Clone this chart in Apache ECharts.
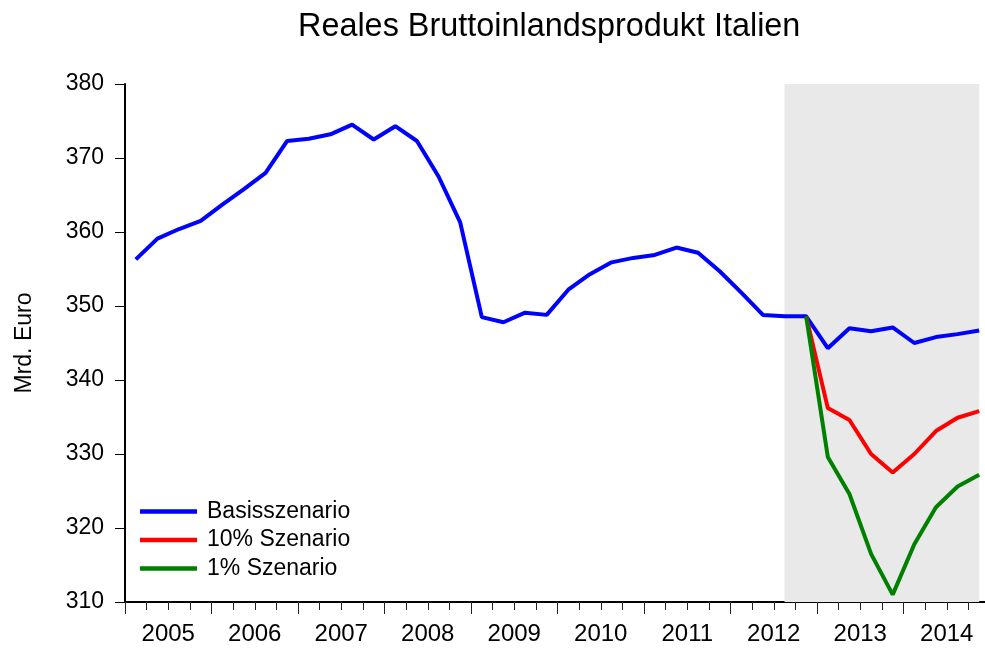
<!DOCTYPE html>
<html>
<head>
<meta charset="utf-8">
<script src="https://cdn.jsdelivr.net/npm/echarts@6/dist/echarts.min.js"></script>
<style>html,body{margin:0;padding:0;background:#fff}#c{width:985px;height:648px}</style>
</head>
<body>
<div id="c"></div>
<script>
// Quarterly data 2005Q1 .. 2014Q4
const startYear = 2005;
const yearLabels = ['2005','2006','2007','2008','2009','2010','2011','2012','2013','2014'];
const basis = [356.3, 359.1, 360.4, 361.5, 363.7, 365.8, 368.0, 372.3, 372.6, 373.2,
               374.5, 372.5, 374.3, 372.3, 367.5, 361.3, 348.5, 347.8, 349.1, 348.8,
               352.2, 354.3, 355.9, 356.5, 356.9, 357.9, 357.2, 354.7, 351.8, 348.8,
               348.6, 348.6, 344.3, 347.0, 346.6, 347.1, 345.0, 345.8, 346.2, 346.7];
const szen10 = [null,null,null,null,null,null,null,null,null,null,
                null,null,null,null,null,null,null,null,null,null,
                null,null,null,null,null,null,null,null,null,null,
                null, 348.6, 336.2, 334.6, 330.0, 327.5, 330.0, 333.1, 334.9, 335.8];
const szen1 = [null,null,null,null,null,null,null,null,null,null,
               null,null,null,null,null,null,null,null,null,null,
               null,null,null,null,null,null,null,null,null,null,
               null, 348.6, 329.6, 324.6, 316.5, 311.0, 317.8, 322.8, 325.6, 327.2];
const shadeFrom = 2012.625, shadeTo = 2014.875;

function toPairs(arr) {
  return arr.map((v, i) => [startYear + (i + 0.5) / 4, v]);
}

const chart = echarts.init(document.getElementById('c'));
const font = '"Liberation Sans", Arial, sans-serif';
chart.setOption({
  backgroundColor: '#fff',
  animation: false,
  title: {
    text: 'Reales Bruttoinlandsprodukt Italien',
    left: 293, top: 6,
    textStyle: { fontFamily: font, fontSize: 32.4, fontWeight: 'normal', color: '#000' }
  },
  legend: {
    orient: 'vertical', left: 135, top: 495,
    icon: 'rect', itemWidth: 57, itemHeight: 4.5, itemGap: 5.5,
    textStyle: { fontFamily: font, fontSize: 23, color: '#000', padding: [0,0,0,5] },
    data: ['Basisszenario', '10% Szenario', '1% Szenario']
  },
  grid: { left: 125, right: -5, top: 84, bottom: 46, outerBoundsMode: 'none', containLabel: false },
  xAxis: [{
    type: 'value', min: 2005, max: 2015, interval: 1,
    axisLine: { lineStyle: { color: '#000', width: 2 } },
    axisTick: { length: 12, lineStyle: { color: '#222', width: 1 } },
    minorTick: { show: true, splitNumber: 4, length: 8, lineStyle: { color: '#222', width: 1 } },
    axisLabel: { show: false },
    splitLine: { show: false }, minorSplitLine: { show: false }
  }, {
    type: 'value', min: 2004.5, max: 2014.5, interval: 0.5, position: 'bottom',
    axisLine: { show: false }, axisTick: { show: false }, splitLine: { show: false },
    axisLabel: {
      margin: 20, fontFamily: font, fontSize: 24, color: '#000',
      formatter: v => (Math.abs(v - Math.round(v)) < 1e-6 ? yearLabels[Math.round(v) - startYear] || '' : '')
    }
  }],
  yAxis: {
    type: 'value', min: 310, max: 380, interval: 10,
    name: 'Mrd. Euro', nameLocation: 'middle', nameGap: 89,
    nameTextStyle: { fontFamily: font, fontSize: 23, color: '#000' },
    axisLine: { show: true, lineStyle: { color: '#000', width: 2 } },
    axisTick: { show: true, length: 10, lineStyle: { color: '#000', width: 1 } },
    axisLabel: { margin: 21, fontFamily: font, fontSize: 23, color: '#000' },
    splitLine: { show: false }
  },
  series: [{
    name: 'Basisszenario', type: 'line', xAxisIndex: 0, data: toPairs(basis),
    symbol: 'none', color: '#0000ff', lineStyle: { width: 4, color: '#0000ff' },
    markArea: { silent: true, itemStyle: { color: '#e9e9e9' }, data: [[{ xAxis: shadeFrom }, { xAxis: shadeTo }]] },
    z: 2
  }, {
    name: '10% Szenario', type: 'line', xAxisIndex: 0, data: toPairs(szen10),
    symbol: 'none', color: '#ff0000', lineStyle: { width: 4, color: '#ff0000' }, z: 3
  }, {
    name: '1% Szenario', type: 'line', xAxisIndex: 0, data: toPairs(szen1),
    symbol: 'none', color: '#008000', lineStyle: { width: 4, color: '#008000' }, z: 4
  }]
});
</script>
</body>
</html>
